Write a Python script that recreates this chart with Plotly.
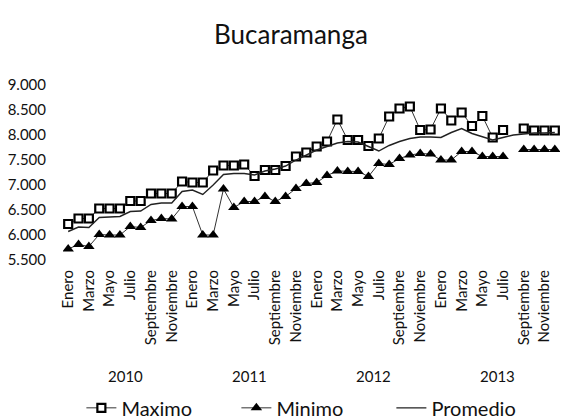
import plotly.graph_objects as go

# ---- data ----
anios = ["2010", "2011", "2012", "2013"]
meses = ["Enero", "Febrero", "Marzo", "Abril", "Mayo", "Junio", "Julio",
         "Agosto", "Septiembre", "Octubre", "Noviembre", "Diciembre"]

maximo = [6220, 6330, 6330, 6530, 6530, 6530, 6680, 6680, 6830, 6830, 6830, 7070,
          7050, 7050, 7290, 7390, 7390, 7410, 7180, 7300, 7300, 7380, 7570, 7650,
          7770, 7870, 8310, 7900, 7900, 7780, 7930, 8370, 8530, 8570, 8100, 8110,
          8530, 8290, 8450, 8180, 8380, 7950, 8100, None, 8130, 8090, 8090, 8090]

minimo = [5720, 5810, 5770, 6010, 6000, 6000, 6170, 6150, 6290, 6330, 6320, 6570,
          6570, 6000, 6000, 6920, 6550, 6670, 6670, 6770, 6670, 6770, 6930, 7030,
          7050, 7190, 7280, 7270, 7270, 7170, 7430, 7410, 7530, 7600, 7630, 7620,
          7500, 7500, 7670, 7670, 7570, 7570, 7570, None, 7710, 7710, 7710, 7710]

promedio = [6070, 6160, 6150, 6350, 6360, 6370, 6470, 6480, 6610, 6640, 6640, 6870,
            6900, 6810, 7000, 7210, 7230, 7230, 7200, 7280, 7320, 7380, 7500, 7600,
            7700, 7770, 7840, 7870, 7860, 7770, 7680, 7790, 7870, 7930, 7960, 7960,
            7950, 8050, 8130, 8030, 7970, 7900, 7950, 8000, 8020, 8040, 8040, 8050]

y_ticks = [5500, 6000, 6500, 7000, 7500, 8000, 8500, 9000]
y_ticktext = ["5.500", "6.000", "6.500", "7.000", "7.500", "8.000", "8.500", "9.000"]

# category keys: month + year
x = [f"{m} {a}" for a in anios for m in meses]
tick_vals = x[::2]
tick_text = [k.split(" ")[0] for k in tick_vals]

FONT = "Lato"
INK = "#111111"

fig = go.Figure()
fig.add_trace(go.Scatter(
    x=x, y=maximo, name="Maximo", mode="lines+markers",
    line=dict(color="#333333", width=1),
    marker=dict(symbol="square", size=8, color="white",
                line=dict(color="black", width=2.2)),
    connectgaps=False))
fig.add_trace(go.Scatter(
    x=x, y=minimo, name="Minimo", mode="lines+markers",
    line=dict(color="#333333", width=1),
    marker=dict(symbol="triangle-up", size=10, color="black"),
    connectgaps=False))
fig.add_trace(go.Scatter(
    x=x, y=promedio, name="Promedio", mode="lines",
    line=dict(color="#222222", width=1.4)))

# year labels under the month labels
for k, a in enumerate(anios):
    fig.add_annotation(x=12 * k + 5.5, xref="x", y=-0.663, yref="paper",
                       text=a, showarrow=False, yanchor="middle",
                       font=dict(family=FONT, size=15, color=INK))

fig.update_layout(
    width=587, height=420,
    margin=dict(l=55, r=35, t=77, b=168, autoexpand=False),
    paper_bgcolor="white", plot_bgcolor="white",
    title=dict(text="Bucaramanga", x=0.482, xref="container", xanchor="center",
               y=0.935, yref="container", yanchor="middle",
               font=dict(family=FONT, size=26, color=INK)),
    showlegend=True,
    legend=dict(orientation="h", xref="container", yref="container",
                x=0.125, xanchor="left", y=0.048, yanchor="middle",
                font=dict(family=FONT, size=20, color=INK),
                entrywidthmode="pixels", entrywidth=110,
                bgcolor="rgba(0,0,0,0)"),
    font=dict(family=FONT, color=INK),
)

fig.update_xaxes(type="category", categoryorder="array", categoryarray=x,
                 range=[-0.5, len(x) - 0.5], automargin=False,
                 tickmode="array", tickvals=tick_vals, ticktext=tick_text,
                 tickangle=-90, tickfont=dict(family=FONT, size=15, color=INK),
                 showgrid=False, showline=False, zeroline=False, ticks="",
                 ticklabelstandoff=6)
fig.update_yaxes(range=[5500, 9000], tickmode="array", tickvals=y_ticks,
                 ticktext=y_ticktext, automargin=False,
                 tickfont=dict(family=FONT, size=15, color=INK),
                 showgrid=False, showline=False, zeroline=False, ticks="",
                 ticklabelstandoff=16)

fig.write_html("out.html")
